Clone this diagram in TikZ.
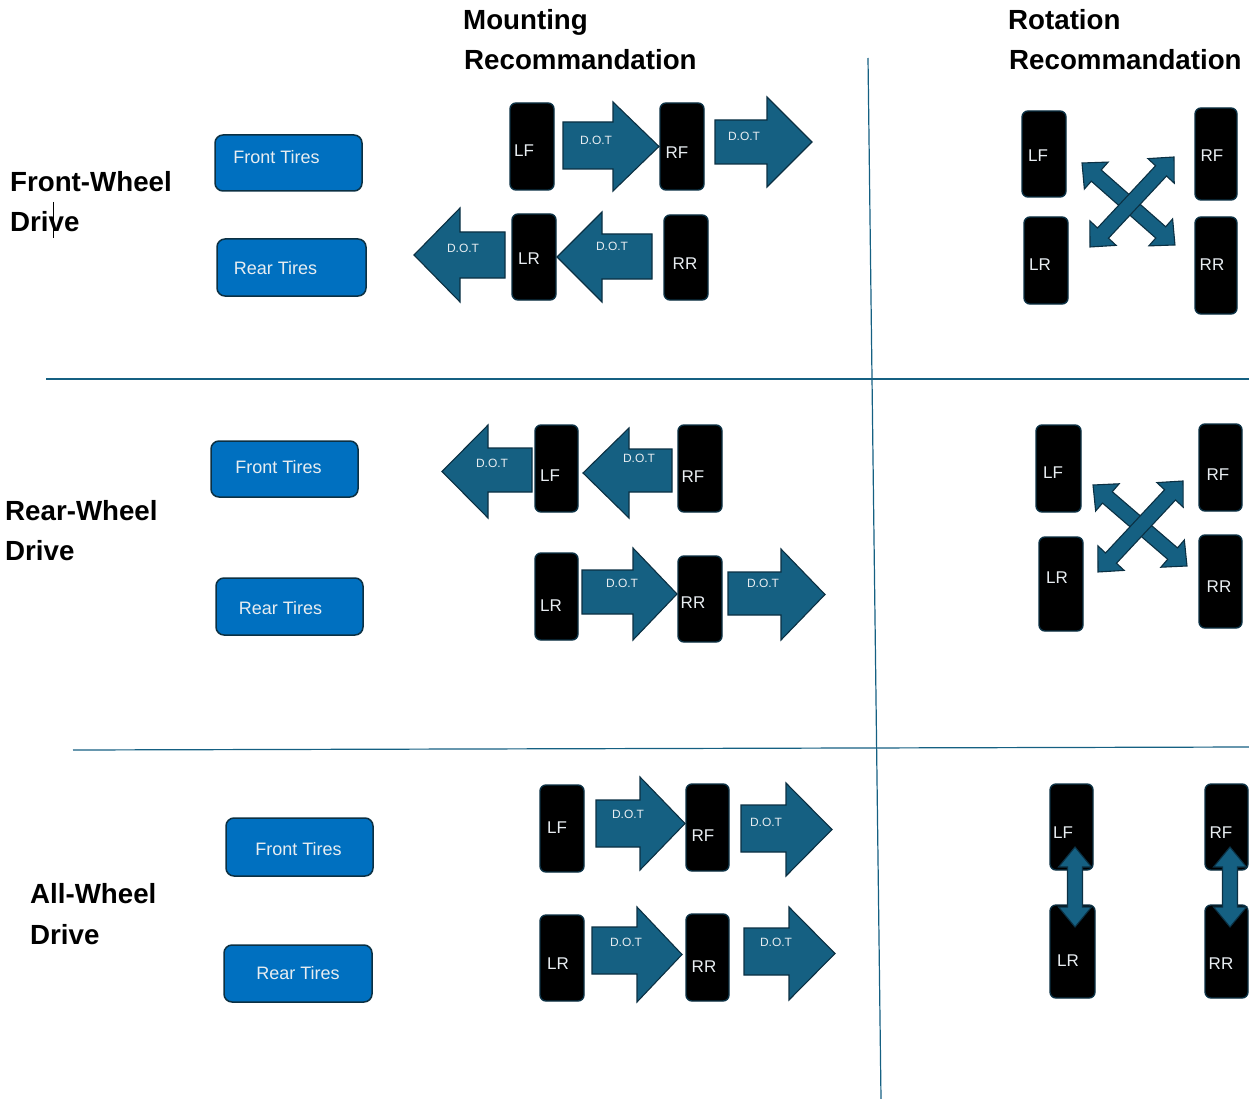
\documentclass[tikz,border=0pt]{standalone}
\usepackage{fontspec}
\setmainfont{Liberation Sans}
\definecolor{acc}{HTML}{156082}
\definecolor{edge}{HTML}{0B3043}
\definecolor{boxblue}{HTML}{0070C0}
\definecolor{lighttxt}{HTML}{E8EDF1}
\tikzset{
  blk/.style={fill=acc, draw=edge, line width=1.1pt, line join=miter},
  tirebox/.style={rectangle, rounded corners=6pt, fill=black, draw=edge, line width=1.4pt, inner sep=0pt},
  tiretxt/.style={text=lighttxt, font=\fontsize{17}{17}\selectfont, inner sep=0pt, text height=12.2pt, text depth=0pt},
  ftbox/.style={rectangle, rounded corners=8pt, fill=boxblue, draw=edge, line width=1.5pt, inner sep=0pt},
  fttxt/.style={text=lighttxt, font=\fontsize{18}{18}\selectfont, inner sep=0pt, text height=12.9pt, text depth=0pt},
  dottxt/.style={text=lighttxt, font=\fontsize{12}{12}\selectfont, inner sep=0pt, text height=8.6pt, text depth=0pt},
  headtxt/.style={font=\bfseries\fontsize{27.7}{27.7}\selectfont, inner sep=0pt, text height=19.8pt, text depth=0pt, anchor=west},
  sepline/.style={draw=acc, line width=1.2pt}
}
% block arrow: xL xB xT ysT ysB yhT yhB
\newcommand{\blkarrow}[7]{%
  \draw[blk] (#1,#4) -- (#2,#4) -- (#2,#6) -- (#3,{(#6+#7)/2}) -- (#2,#7) -- (#2,#5) -- (#1,#5) -- cycle;}
% double arrow: x1 y1 x2 y2 w W L
\newcommand{\dblarrow}[7]{%
  \pgfmathsetmacro\dlen{veclen(#3-#1,#4-#2)}%
  \pgfmathsetmacro\dang{atan2(-(#4-#2),#3-#1)}%
  \begin{scope}[shift={(#1,#2)}, rotate=\dang]
    \draw[blk] (0,0) -- (#7,#6) -- (#7,#5) -- ({\dlen-#7},#5) -- ({\dlen-#7},#6) -- (\dlen,0)
      -- ({\dlen-#7},-#6) -- ({\dlen-#7},-#5) -- (#7,-#5) -- (#7,-#6) -- cycle;
  \end{scope}}
% tire: name x1 y1 x2 y2 label tx ty
\newcommand{\tire}[8]{%
  \node[tirebox, minimum width={(#4-#2)*1pt}, minimum height={(#5-#3)*1pt}] (#1) at ({(#2+#4)/2},{(#3+#5)/2}) {};
  \node[tiretxt] (#1t) at (#7,#8) {#6};}
% blue box: name x1 y1 x2 y2 label tx ty
\newcommand{\tbox}[8]{%
  \node[ftbox, minimum width={(#4-#2)*1pt}, minimum height={(#5-#3)*1pt}] (#1) at ({(#2+#4)/2},{(#3+#5)/2}) {};
  \node[fttxt] (#1t) at (#7,#8) {#6};}
\begin{document}
\begin{tikzpicture}[x=1pt,y=-1pt]
\path[use as bounding box] (0,0) rectangle (1249,1099);

% separators
\coordinate (vTop) at (868,58);
\coordinate (vBot) at (881,1099);
\coordinate (h1L) at (46,379);
\coordinate (h1R) at (1249,379);
\coordinate (h2L) at (73,750);
\coordinate (h2R) at (1249,747);
\draw[sepline] (vTop) -- (vBot);
\draw[sepline] (h1L) -- (h1R);
\draw[sepline] (h2L) -- (h2R);

% headers
\node[headtxt] (hM1) at (463,20) {Mounting};
\node[headtxt] (hM2) at (464,60) {Recommandation};
\node[headtxt] (hR1) at (1008,20) {Rotation};
\node[headtxt] (hR2) at (1009,60) {Recommandation};

% row labels
\node[headtxt] (fw1) at (10,182) {Front-Wheel};
\node[headtxt] (fw2) at (10,222) {Drive};
\coordinate (curT) at (53,202);
\coordinate (curB) at (53,238);
\draw[line width=0.8pt] (curT) -- (curB);
\node[headtxt] (rw1) at (5,511) {Rear-Wheel};
\node[headtxt] (rw2) at (5,551) {Drive};
\node[headtxt] (aw1) at (30,894) {All-Wheel};
\node[headtxt] (aw2) at (30,935) {Drive};

% blue boxes
\tbox{fwF}{215}{135}{362}{191}{Front Tires}{276.5}{157}
\tbox{fwR}{217}{239}{366}{296}{Rear Tires}{275.5}{268}
\tbox{rwF}{211}{441}{358}{497}{Front Tires}{278.5}{467}
\tbox{rwR}{216}{578}{363}{635}{Rear Tires}{280.5}{608}
\tbox{awF}{226}{818}{373}{876}{Front Tires}{298.5}{849}
\tbox{awR}{224}{945}{372}{1002}{Rear Tires}{298}{973}

% ===== FWD mounting =====
\blkarrow{563}{613}{659}{122}{169}{102}{191}
\node[dottxt] (fd1) at (596,140) {D.O.T};
\blkarrow{715}{767}{812}{120}{164}{97}{187}
\node[dottxt] (fd2) at (744,136) {D.O.T};
\blkarrow{652}{602}{557}{234}{279}{212}{302}
\node[dottxt] (fd3) at (612,246) {D.O.T};
\blkarrow{505}{460}{414}{232}{278}{208}{302}
\node[dottxt] (fd4) at (463,248) {D.O.T};
\tire{fmLF}{510}{103}{554}{190}{LF}{524}{150}
\tire{fmRF}{660}{103}{704}{190}{RF}{677}{152}
\tire{fmLR}{512}{214}{556}{300}{LR}{529}{258}
\tire{fmRR}{664}{215}{708}{300}{RR}{685}{263}

% ===== FWD rotation =====
\tire{frLF}{1022}{111}{1066}{197}{LF}{1038}{155}
\tire{frRF}{1195}{108}{1237}{200}{RF}{1212}{155}
\tire{frLR}{1024}{217}{1068}{304}{LR}{1040}{264}
\tire{frRR}{1195}{217}{1237}{314}{RR}{1212}{264}
\dblarrow{1082}{163}{1175}{245}{7.5}{18}{19}
\dblarrow{1174}{157}{1090}{247}{7.5}{18}{19}

% ===== RWD mounting =====
\blkarrow{532}{488}{442}{448}{492}{425}{518}
\node[dottxt] (rd1) at (492,463) {D.O.T};
\blkarrow{672}{629}{583}{449}{492}{428}{518}
\node[dottxt] (rd2) at (639,458) {D.O.T};
\blkarrow{582}{633}{677}{570}{614}{548}{640}
\node[dottxt] (rd3) at (622,583) {D.O.T};
\blkarrow{728}{781}{825}{572}{615}{549}{640}
\node[dottxt] (rd4) at (763,583) {D.O.T};
\tire{rmLF}{535}{425}{578}{512}{LF}{550}{475}
\tire{rmRF}{678}{425}{722}{512}{RF}{693}{476}
\tire{rmLR}{535}{553}{578}{640}{LR}{551}{605}
\tire{rmRR}{678}{556}{722}{642}{RR}{693}{602}

% ===== RWD rotation =====
\tire{rrLF}{1036}{425}{1081}{512}{LF}{1053}{472}
\tire{rrRF}{1199}{424}{1242}{511}{RF}{1218}{474}
\tire{rrLR}{1039}{537}{1083}{631}{LR}{1057}{577}
\tire{rrRR}{1199}{535}{1242}{628}{RR}{1219}{586}
\dblarrow{1093}{485}{1187}{566}{7.5}{18}{19}
\dblarrow{1183}{481}{1098}{572}{7.5}{18}{19}

% ===== AWD mounting =====
\blkarrow{596}{640}{685}{800}{847}{777}{870}
\node[dottxt] (ad1) at (628,814) {D.O.T};
\blkarrow{741}{786}{832}{805}{852}{783}{876}
\node[dottxt] (ad2) at (766,822) {D.O.T};
\blkarrow{592}{637}{682}{927}{974}{907}{1002}
\node[dottxt] (ad3) at (626,942) {D.O.T};
\blkarrow{744}{789}{835}{928}{975}{907}{1000}
\node[dottxt] (ad4) at (776,942) {D.O.T};
\tire{amLF}{540}{785}{584}{872}{LF}{557}{827}
\tire{amRF}{686}{784}{729}{871}{RF}{703}{835}
\tire{amLR}{540}{915}{584}{1001}{LR}{558}{963}
\tire{amRR}{686}{914}{729}{1001}{RR}{704}{966}

% ===== AWD rotation =====
\tire{arLF}{1050}{784}{1093}{870}{LF}{1063}{832}
\tire{arRF}{1205}{784}{1248}{870}{RF}{1221}{832}
\tire{arLR}{1050}{905}{1095}{998}{LR}{1068}{960}
\tire{arRR}{1205}{905}{1248}{998}{RR}{1221}{963}
\dblarrow{1075}{847}{1075}{927}{7.5}{16.5}{20}
\dblarrow{1230}{847}{1230}{927}{7.5}{16.5}{20}
\end{tikzpicture}
\end{document}
